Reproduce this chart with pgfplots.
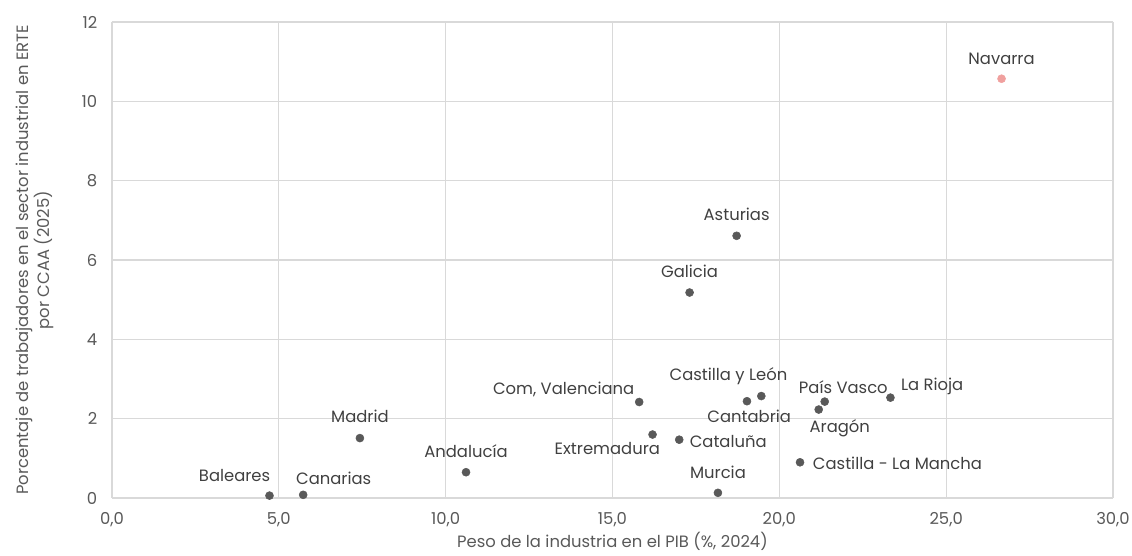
\documentclass[border=0pt]{standalone}
\usepackage{pgfplots}
\pgfplotsset{compat=1.18}
\usepackage{pgfplotstable}
\usepackage{fontspec}
\setmainfont{Poppins}
\definecolor{gridc}{HTML}{D9D9D9}
\definecolor{ptc}{HTML}{595959}
\definecolor{txtc}{HTML}{404040}
\definecolor{navc}{HTML}{F0A09E}
\newcommand{\chartfont}{\fontsize{12.3}{16}\selectfont}

% labels centred above/below the point
\pgfplotstableread[col sep=semicolon]{
x;y;label;dx;dy
7.43;1.51;Madrid;0;16
10.61;0.65;Andalucía;0;15.75
17.31;5.18;Galicia;0;16.2
18.72;6.61;Asturias;0;16
18.16;0.13;Murcia;0;15.75
19.03;2.44;Cantabria;1.7;-11
}\dataC
% labels whose right edge is placed
\pgfplotstableread[col sep=semicolon]{
x;y;label;dx;dy
4.72;0.06;Baleares;0.75;14.8
15.80;2.42;Com, Valenciana;-3.5;9.2
16.20;1.60;Extremadura;5.8;-10.2
19.46;2.57;Castilla y León;19.7;15.2
}\dataE
% labels whose left edge is placed
\pgfplotstableread[col sep=semicolon]{
x;y;label;dx;dy
5.73;0.08;Canarias;-5.5;12.5
17.00;1.47;Cataluña;7.7;-1.3
21.36;2.43;País Vasco;-19.5;10.5
23.33;2.53;La Rioja;7.8;8.25
21.18;2.23;Aragón;-7;-14
20.62;0.90;Castilla - La Mancha;9.5;-0.5
}\dataW

\pgfplotstableread[col sep=semicolon]{
x;y;label;dx;dy
26.66;10.57;Navarra;0;14.8
}\navdata

\pgfplotsset{
  lbl/.style={only marks, mark=*, mark size=3pt,
    visualization depends on={\thisrow{dx}\as\mydx},
    visualization depends on={\thisrow{dy}\as\mydy},
    point meta=explicit symbolic,
    nodes near coords,
    every node near coord/.append style={anchor=#1, xshift=\mydx pt, yshift=\mydy pt, text=txtc, inner sep=0pt, font=\chartfont},
  }
}

\begin{document}
\begin{tikzpicture}
\useasboundingbox (-84pt,-43.5pt) rectangle (765pt,373.5pt);
\begin{axis}[
  at={(0,0)}, anchor=south west,
  scale only axis, width=750.75pt, height=357pt,
  xmin=0, xmax=30, ymin=0, ymax=12,
  xtick distance=5, ytick distance=2,
  grid=major,
  major grid style={draw=gridc, line width=0.8pt},
  axis line style={draw=none},
  major tick style={draw=none},
  font=\chartfont,
  tick label style={text=ptc, font=\chartfont},
  /pgf/number format/assume math mode=true,
  xticklabel style={/pgf/number format/fixed, /pgf/number format/fixed zerofill, /pgf/number format/precision=1, /pgf/number format/use comma, yshift=-7.5pt},
  yticklabel style={/pgf/number format/fixed, /pgf/number format/precision=0, xshift=-7.5pt},
  xlabel={Peso de la industria en el PIB (\%, 2024)},
  xlabel style={at={(axis description cs:0.5,-0.092)}, anchor=center, text=ptc},
  ylabel={Porcentaje de trabajadores en el sector industrial en ERTE\\por CCAA (2025)},
  ylabel style={at={(axis description cs:-0.077,0.5)}, anchor=center, align=center, text=ptc},
  clip=false,
]
\addplot[lbl=center, color=ptc] table[x=x, y=y, meta=label] {\dataC};
\addplot[lbl=east, color=ptc] table[x=x, y=y, meta=label] {\dataE};
\addplot[lbl=west, color=ptc] table[x=x, y=y, meta=label] {\dataW};
\addplot[lbl=center, color=navc] table[x=x, y=y, meta=label] {\navdata};
\end{axis}
\end{tikzpicture}
\end{document}
